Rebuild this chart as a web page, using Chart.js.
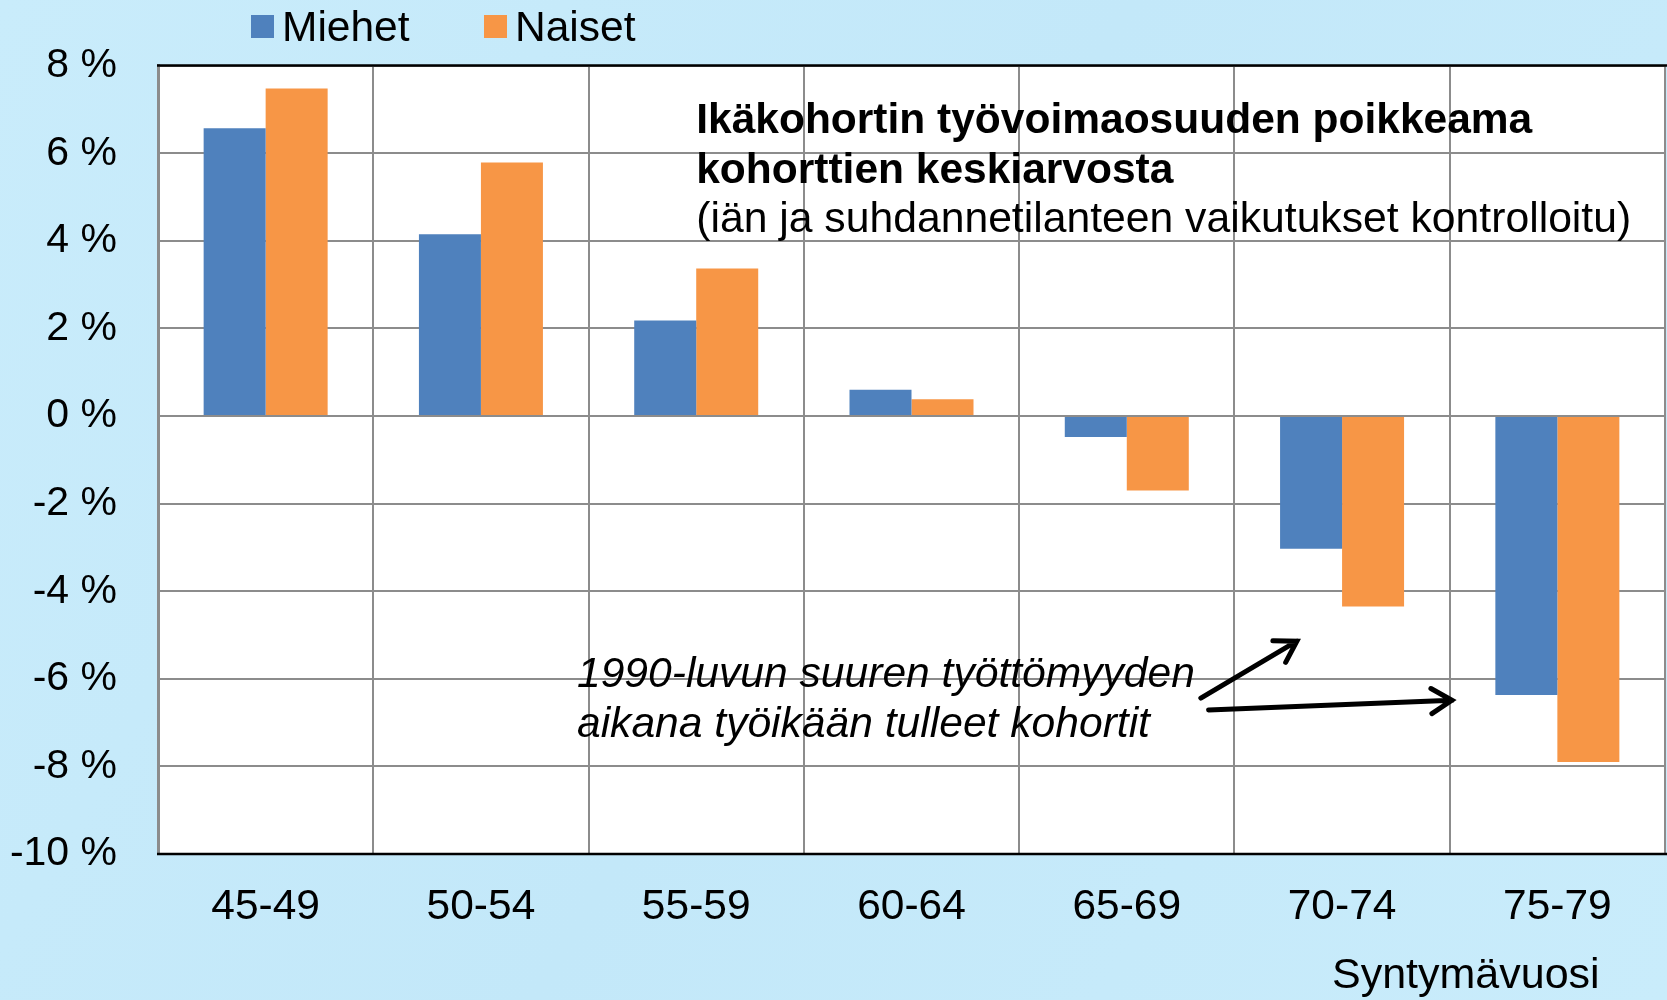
<!DOCTYPE html>
<html>
<head>
<meta charset="utf-8">
<script src="https://cdn.jsdelivr.net/npm/chart.js@4.4.1/dist/chart.umd.min.js"></script>
<style>
  html, body { margin: 0; padding: 0; background: #c8ebfa; }
  #wrap { width: 1667px; height: 1000px; }
  canvas { display: block; }
</style>
</head>
<body>
<div id="wrap"><canvas id="c" width="1667" height="1000"></canvas></div>
<script>
// ---- Data ----
const categories = ['45-49', '50-54', '55-59', '60-64', '65-69', '70-74', '75-79'];
const miehet = [6.57, 4.15, 2.18, 0.60, -0.48, -3.03, -6.37];
const naiset = [7.48, 5.79, 3.37, 0.38, -1.70, -4.35, -7.90];
const seriesNames = ['Miehet', 'Naiset'];
const yTicks = [-10, -8, -6, -4, -2, 0, 2, 4, 6, 8];
const titleLines = ['Ikäkohortin työvoimaosuuden poikkeama', 'kohorttien keskiarvosta'];
const subtitleLine = '(iän ja suhdannetilanteen vaikutukset kontrolloitu)';
const noteLines = ['1990-luvun suuren työttömyyden', 'aikana työikään tulleet kohortit'];
const xAxisTitle = 'Syntymävuosi';

// ---- Styles / placement (in scale units) ----
const FONT = "'Liberation Sans', Arial, sans-serif";
const BLUE = '#4f81bd';
const ORANGE = '#f79646';
const GRID = '#8c8c8c';
const titlePos = { x: 2.0, ys: [6.73, 5.59, 4.47] };
const notePos = { x: 1.446, ys: [-5.92, -7.06] };
const arrows = [
  { from: [4.344, -6.44], to: [4.79, -5.14] },
  { from: [4.38, -6.71], to: [5.51, -6.49] }
];

const decor = {
  id: 'decor',
  beforeDraw(chart) {
    const { ctx, chartArea: a } = chart;
    ctx.save();
    const g = ctx.createLinearGradient(0, 0, chart.width, chart.height);
    g.addColorStop(0, '#c9ecfb');
    g.addColorStop(0.5, '#c3e8f9');
    g.addColorStop(1, '#c9ecfb');
    ctx.fillStyle = g;
    ctx.fillRect(0, 0, chart.width, chart.height);
    ctx.fillStyle = '#ffffff';
    ctx.fillRect(a.left, a.top, a.right - a.left, a.bottom - a.top);
    ctx.restore();
  },
  afterDraw(chart) {
    const { ctx, chartArea: a, scales } = chart;
    const xs = scales.x, ys = scales.y;
    ctx.save();
    // top and bottom black borders
    ctx.strokeStyle = '#000';
    ctx.lineWidth = 2.5;
    ctx.beginPath();
    ctx.moveTo(a.left - 1, a.top); ctx.lineTo(a.right + 2, a.top);
    ctx.moveTo(a.left - 1, a.bottom); ctx.lineTo(a.right + 2, a.bottom);
    ctx.stroke();

    // Title block
    ctx.fillStyle = '#000';
    ctx.textBaseline = 'middle';
    ctx.textAlign = 'left';
    const tx = xs.getPixelForValue(titlePos.x);
    ctx.font = 'bold 42.5px ' + FONT;
    titleLines.forEach((t, i) => ctx.fillText(t, tx, ys.getPixelForValue(titlePos.ys[i])));
    ctx.font = '42.7px ' + FONT;
    ctx.fillText(subtitleLine, tx, ys.getPixelForValue(titlePos.ys[2]));

    // Note
    ctx.font = 'italic 42.6px ' + FONT;
    const nx = xs.getPixelForValue(notePos.x);
    noteLines.forEach((t, i) => ctx.fillText(t, nx, ys.getPixelForValue(notePos.ys[i])));

    // Arrows
    ctx.strokeStyle = '#000';
    ctx.lineWidth = 5;
    ctx.lineCap = 'round';
    arrows.forEach(ar => {
      const x1 = xs.getPixelForValue(ar.from[0]), y1 = ys.getPixelForValue(ar.from[1]);
      const x2 = xs.getPixelForValue(ar.to[0]), y2 = ys.getPixelForValue(ar.to[1]);
      const ang = Math.atan2(y2 - y1, x2 - x1);
      const L = 24, w = 0.55;
      ctx.beginPath();
      ctx.moveTo(x1, y1); ctx.lineTo(x2, y2);
      ctx.moveTo(x2 - L * Math.cos(ang - w), y2 - L * Math.sin(ang - w));
      ctx.lineTo(x2, y2);
      ctx.lineTo(x2 - L * Math.cos(ang + w), y2 - L * Math.sin(ang + w));
      ctx.stroke();
    });

    // Legend
    ctx.lineCap = 'butt';
    ctx.font = '42.5px ' + FONT;
    const legendX = [251, 484];
    chart.data.datasets.forEach((ds, i) => {
      ctx.fillStyle = ds.backgroundColor;
      ctx.fillRect(legendX[i], 15, 23, 23);
      ctx.fillStyle = '#000';
      ctx.fillText(ds.label, legendX[i] + 31, 29);
    });

    // X axis title
    ctx.font = '43px ' + FONT;
    ctx.fillText(xAxisTitle, 1332, 976);
    ctx.restore();
  }
};

new Chart(document.getElementById('c'), {
  type: 'bar',
  data: {
    labels: categories,
    datasets: [
      { label: seriesNames[0], data: miehet, backgroundColor: BLUE, borderWidth: 0 },
      { label: seriesNames[1], data: naiset, backgroundColor: ORANGE, borderWidth: 0 }
    ]
  },
  options: {
    responsive: false,
    animation: false,
    devicePixelRatio: 1,
    layout: { padding: { top: 64, right: 2, left: 0, bottom: 0 } },
    datasets: { bar: { categoryPercentage: 0.576, barPercentage: 1.0 } },
    plugins: { legend: { display: false }, tooltip: { enabled: false }, title: { display: false } },
    scales: {
      x: {
        afterFit(s) { s.height = 146; },
        grid: { color: GRID, lineWidth: 2, drawTicks: false, offset: true },
        border: { display: true, color: '#000', width: 2 },
        ticks: { font: { family: FONT, size: 42.5 }, color: '#000', padding: 28 }
      },
      y: {
        min: -10, max: 8,
        afterFit(s) { s.width = 158; },
        afterBuildTicks(s) { s.ticks = yTicks.map(v => ({ value: v })); },
        grid: { color: GRID, lineWidth: 2, drawTicks: false },
        border: { display: true, color: GRID, width: 3 },
        ticks: { font: { family: FONT, size: 41 }, color: '#000', padding: 41, callback: v => v + ' %' }
      }
    }
  },
  plugins: [decor]
});
</script>
</body>
</html>
